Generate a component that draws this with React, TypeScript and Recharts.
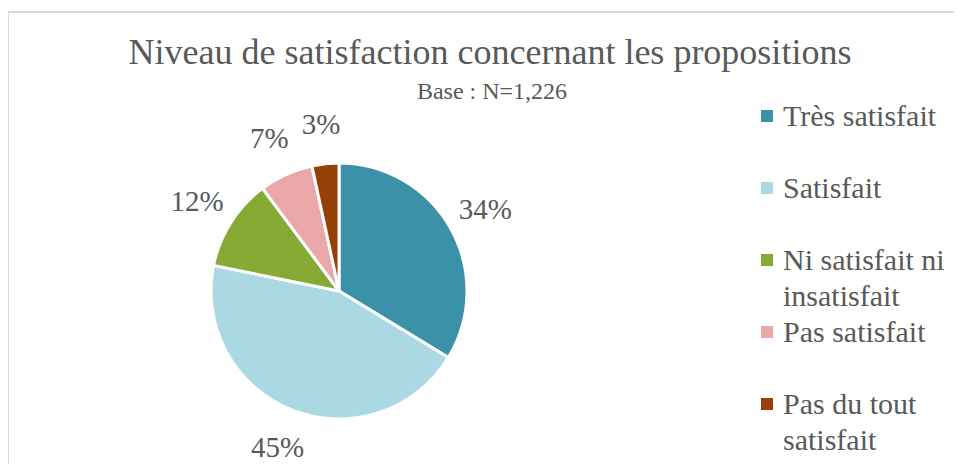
import React from "react";
import { PieChart, Pie, Cell, Legend } from "recharts";

const categories = [
  "Très satisfait",
  "Satisfait",
  "Ni satisfait ni insatisfait",
  "Pas satisfait",
  "Pas du tout satisfait",
];
const shares = [33.7, 44.5, 11.6, 6.8, 3.4];
const colors = ["#3a91a8", "#abd9e3", "#86aa34", "#e9a7a8", "#963f06"];

const title = "Niveau de satisfaction concernant les propositions";
const subtitle = "Base : N=1,226";

const data = categories.map((name, i) => ({ name, value: shares[i] }));

const FONT = "Liberation Serif, DejaVu Serif, serif";
const TEXT = "#595959";
const RAD = Math.PI / 180;

function renderLabel(props: any) {
  const { cx, cy, midAngle, outerRadius, value } = props;
  const r = outerRadius + 40;
  const x = cx + r * Math.cos(-midAngle * RAD);
  const y = cy + r * Math.sin(-midAngle * RAD);
  return (
    <text
      x={x}
      y={y}
      textAnchor="middle"
      dominantBaseline="central"
      fill={TEXT}
      fontSize={29}
      fontFamily={FONT}
    >
      {Math.round(value)}%
    </text>
  );
}

function LegendContent(props: any) {
  const items = [...(props.payload || [])].sort(
    (a: any, b: any) => categories.indexOf(a.value) - categories.indexOf(b.value)
  );
  return (
    <div style={{ fontFamily: FONT, color: TEXT, fontSize: 30 }}>
      {items.map((entry: any, i: number) => (
        <div key={i} style={{ height: 72, display: "flex" }}>
          <div
            style={{
              width: 12,
              height: 12,
              background: entry.color,
              marginTop: 12,
              flex: "none",
            }}
          />
          <div style={{ marginLeft: 10, lineHeight: "36px", width: 176 }}>
            {entry.value}
          </div>
        </div>
      ))}
    </div>
  );
}

export default function App() {
  return (
    <div style={{ position: "relative", width: 954, height: 456 }}>
      <div
        style={{
          position: "absolute",
          left: -1,
          top: 3,
          right: -10,
          bottom: -10,
          borderTop: "2px solid #d9d9d9",
          borderLeft: "2px solid #d9d9d9",
        }}
      />
      <svg
        width={954}
        height={456}
        style={{ position: "absolute", left: 0, top: 0 }}
      >
        <text
          x={482}
          y={56}
          textAnchor="middle"
          fill={TEXT}
          fontSize={36}
          fontFamily={FONT}
        >
          {title}
        </text>
        <text
          x={484}
          y={91}
          textAnchor="middle"
          fill={TEXT}
          fontSize={24}
          fontFamily={FONT}
        >
          {subtitle}
        </text>
      </svg>
      <div style={{ position: "absolute", left: 0, top: 0 }}>
        <PieChart
          width={954}
          height={456}
          margin={{ top: 0, right: 0, bottom: 0, left: 0 }}
        >
          <Pie
            data={data}
            dataKey="value"
            nameKey="name"
            cx={331}
            cy={283}
            outerRadius={128}
            startAngle={90}
            endAngle={-270}
            stroke="#ffffff"
            strokeWidth={3}
            label={renderLabel}
            labelLine={false}
            isAnimationActive={false}
          >
            {data.map((d, i) => (
              <Cell key={d.name} fill={colors[i]} />
            ))}
          </Pie>
          <Legend
            layout="vertical"
            align="right"
            verticalAlign="top"
            content={<LegendContent />}
            wrapperStyle={{ left: 753, top: 90, width: 200 }}
          />
        </PieChart>
      </div>
    </div>
  );
}
